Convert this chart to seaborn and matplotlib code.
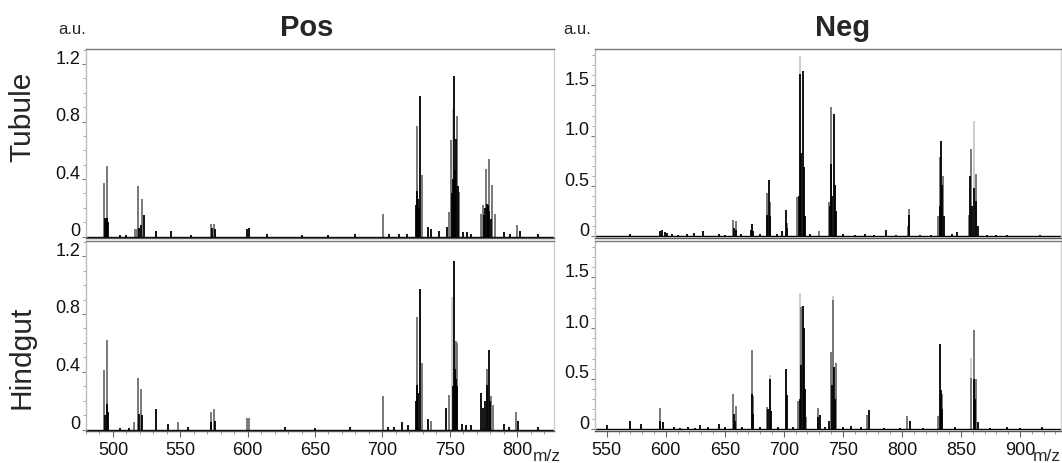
import pandas as pd
import matplotlib
matplotlib.use("Agg")
import matplotlib.pyplot as plt
import matplotlib.transforms as mtransforms
from matplotlib.ticker import FixedLocator, MultipleLocator
import seaborn as sns

# peak lists (m/z, intensity a.u.); three overlaid replicates
pos_tubule_light = [(752.2, 0.89)]
pos_tubule_gray = [(493.3, 0.37), (495.5, 0.49), (516.5, 0.05), (517.5, 0.05), (518.6, 0.35),
                   (521.5, 0.26), (572.8, 0.09), (575.2, 0.09), (700.4, 0.16), (725.9, 0.77),
                   (729.4, 0.43), (749.4, 0.17), (751.2, 0.67), (755.1, 0.84), (756.6, 0.31),
                   (773.0, 0.16), (774.5, 0.22), (777.0, 0.47), (779.0, 0.54), (781.2, 0.36),
                   (783.6, 0.16), (799.7, 0.08)]
pos_tubule_black = [(494.0, 0.13), (494.6, 0.12), (495.5, 0.13), (496.2, 0.10), (519.0, 0.06),
                    (521.0, 0.08), (523.0, 0.15), (531.9, 0.04), (543.0, 0.04), (573.5, 0.06),
                    (575.7, 0.05), (599.5, 0.05), (601.0, 0.06), (614.3, 0.02), (725.3, 0.22),
                    (725.9, 0.32), (726.5, 0.26), (727.2, 0.20), (728.1, 0.98), (733.9, 0.07),
                    (736.0, 0.05), (742.0, 0.04), (747.7, 0.07), (751.8, 0.30), (752.6, 0.40),
                    (753.4, 1.12), (754.1, 0.46), (755.0, 0.68), (755.8, 0.35), (775.5, 0.15),
                    (776.5, 0.20), (777.5, 0.23), (778.3, 0.22), (779.3, 0.18), (780.3, 0.12),
                    (790.3, 0.03), (802.2, 0.04), (815.5, 0.015), (505.0, 0.01), (510.0, 0.01),
                    (558.0, 0.01), (640.0, 0.01), (660.0, 0.01), (680.0, 0.015), (705.0, 0.02),
                    (712.0, 0.02), (718.0, 0.02), (760.0, 0.03), (763.0, 0.03), (766.0, 0.02),
                    (795.0, 0.02)]

pos_hindgut_light = [(751.7, 0.92)]
pos_hindgut_gray = [(493.3, 0.41), (495.5, 0.62), (516.0, 0.05), (518.8, 0.36), (521.0, 0.28),
                    (548.0, 0.05), (572.5, 0.12), (575.2, 0.14), (599.3, 0.08), (601.2, 0.08),
                    (700.2, 0.23), (725.9, 0.78), (729.4, 0.46), (735.8, 0.06), (749.6, 0.24),
                    (754.4, 0.61), (755.6, 0.60), (777.5, 0.42), (780.6, 0.23), (781.8, 0.17),
                    (799.2, 0.12)]
pos_hindgut_black = [(494.2, 0.10), (495.5, 0.18), (496.2, 0.12), (519.5, 0.11), (521.5, 0.10),
                     (531.9, 0.14), (540.8, 0.04), (573.0, 0.05), (575.5, 0.06), (627.7, 0.015),
                     (714.2, 0.05), (725.3, 0.20), (725.9, 0.31), (726.6, 0.25), (728.1, 0.97),
                     (734.1, 0.07), (747.6, 0.15), (752.3, 0.30), (753.4, 1.17), (754.0, 0.42),
                     (754.8, 0.35), (755.5, 0.30), (772.9, 0.25), (774.9, 0.15), (776.5, 0.20),
                     (777.8, 0.31), (779.0, 0.55), (780.0, 0.20), (790.3, 0.04), (801.0, 0.06),
                     (815.8, 0.02), (505.0, 0.01), (512.0, 0.01), (556.0, 0.015), (650.0, 0.01),
                     (676.0, 0.02), (704.0, 0.02), (709.0, 0.02), (719.0, 0.03), (759.0, 0.04),
                     (762.0, 0.03), (766.0, 0.03), (794.0, 0.02)]

neg_tubule_light = [(713.7, 1.79), (861.0, 1.15)]
neg_tubule_gray = [(657.2, 0.16), (659.5, 0.15), (685.5, 0.43), (688.3, 0.34), (702.4, 0.13),
                   (711.4, 0.39), (729.5, 0.05), (738.0, 0.34), (739.9, 1.28), (805.4, 0.10),
                   (806.2, 0.27), (830.8, 0.20), (832.5, 0.79), (835.0, 0.60), (857.0, 0.21),
                   (858.2, 0.87), (862.7, 0.62)]
neg_tubule_black = [(569.7, 0.02), (595.5, 0.05), (597.0, 0.06), (599.0, 0.04), (601.0, 0.03),
                    (618.0, 0.02), (624.0, 0.03), (631.3, 0.05), (658.0, 0.08), (659.5, 0.06),
                    (672.0, 0.06), (672.8, 0.12), (673.6, 0.05), (685.5, 0.21), (687.4, 0.56),
                    (688.3, 0.20), (698.2, 0.05), (701.6, 0.26), (702.6, 0.08), (713.2, 0.40),
                    (713.9, 1.61), (714.6, 0.83), (716.5, 1.64), (717.2, 0.69), (718.0, 0.20),
                    (739.2, 0.30), (740.0, 0.72), (741.0, 0.40), (742.5, 1.22), (743.2, 0.51),
                    (744.0, 0.25), (768.7, 0.02), (786.2, 0.06), (806.2, 0.21), (832.0, 0.30),
                    (833.3, 0.95), (834.0, 0.51), (835.5, 0.20), (846.9, 0.04), (858.0, 0.60),
                    (859.5, 0.30), (861.0, 0.48), (862.5, 0.35), (864.7, 0.10), (888.7, 0.01),
                    (916.9, 0.01), (605.0, 0.02), (610.0, 0.015), (645.0, 0.02), (650.0, 0.015),
                    (664.0, 0.02), (680.0, 0.02), (694.0, 0.02), (722.0, 0.02), (750.0, 0.02),
                    (760.0, 0.015), (776.0, 0.015), (795.0, 0.015), (815.0, 0.015), (825.0, 0.015),
                    (842.0, 0.02), (872.0, 0.015), (880.0, 0.01)]

neg_hindgut_light = [(688.3, 0.54), (713.7, 1.35), (741.3, 1.32), (858.7, 0.71)]
neg_hindgut_gray = [(595.1, 0.21), (657.2, 0.35), (659.2, 0.23), (673.3, 0.78), (674.1, 0.33),
                    (686.0, 0.22), (712.0, 0.28), (714.3, 1.21), (718.5, 0.12), (729.2, 0.21),
                    (739.6, 0.76), (741.8, 1.28), (744.1, 0.66), (770.2, 0.14), (804.5, 0.13),
                    (830.8, 0.13), (834.2, 0.35), (858.7, 0.51), (861.0, 0.98), (862.4, 0.50)]
neg_hindgut_black = [(550.5, 0.04), (569.7, 0.08), (578.8, 0.05), (595.5, 0.08), (597.4, 0.07),
                     (607.2, 0.02), (619.1, 0.02), (629.0, 0.04), (645.1, 0.05), (657.8, 0.15),
                     (659.0, 0.08), (673.3, 0.35), (674.0, 0.15), (686.5, 0.20), (688.3, 0.50),
                     (689.0, 0.18), (701.6, 0.60), (702.3, 0.34), (713.5, 0.30), (714.3, 0.64),
                     (716.5, 1.22), (717.0, 1.00), (717.8, 0.40), (729.2, 0.12), (730.6, 0.14),
                     (738.3, 0.08), (741.0, 0.44), (742.5, 0.62), (743.3, 0.30), (756.6, 0.03),
                     (772.4, 0.19), (806.8, 0.08), (832.2, 0.84), (833.0, 0.39), (834.0, 0.20),
                     (861.0, 0.50), (862.0, 0.30), (864.1, 0.07), (888.7, 0.02), (918.3, 0.02),
                     (612.0, 0.015), (625.0, 0.015), (636.0, 0.02), (650.0, 0.02), (665.0, 0.02),
                     (680.0, 0.02), (695.0, 0.02), (708.0, 0.02), (735.0, 0.02), (750.0, 0.02),
                     (765.0, 0.02), (785.0, 0.015), (798.0, 0.015), (818.0, 0.015), (845.0, 0.02),
                     (875.0, 0.015), (900.0, 0.01)]

pos_yticks = [0, 0.4, 0.8, 1.2]
pos_ylabels = ["0", "0.4", "0.8", "1.2"]
neg_yticks = [0, 0.5, 1.0, 1.5]
neg_ylabels = ["0", "0.5", "1.0", "1.5"]
pos_xticks = [500, 550, 600, 650, 700, 750, 800]
neg_xticks = [550, 600, 650, 700, 750, 800, 850, 900]

sns.set_theme(style="ticks")
plt.rcParams['font.family'] = ['Liberation Sans', 'DejaVu Sans']

W, H = 1062, 464
fig = plt.figure(figsize=(W / 100, H / 100), dpi=100)


def box(x0, y0, x1, y1):
    return [x0 / W, 1 - y1 / H, (x1 - x0) / W, (y1 - y0) / H]


def draw_spectrum(ax, light, gray, black):
    for peaks, col in [(light, '#c9c9c9'), (gray, '#6e6e6e'), (black, '#000000')]:
        df = pd.DataFrame(peaks, columns=['mz', 'intensity'])
        ax.vlines(df['mz'], 0, df['intensity'], color=col, lw=1.3)
    ax.axhline(0, color='black', lw=1.0)


def style_axes(ax, xlim, ylim, yticks, ylabels, xticks, bottom):
    ax.set_xlim(*xlim)
    ax.set_ylim(*ylim)
    ax.set_facecolor('white')
    ax.spines['top'].set_color('#7a7a7a')
    ax.spines['left'].set_color('#bdbdbd')
    ax.spines['right'].set_color('#cfcfcf')
    ax.spines['bottom'].set_color('#555555')
    for s in ax.spines.values():
        s.set_linewidth(1.0)
    ax.yaxis.set_major_locator(FixedLocator(yticks))
    ax.set_yticklabels(ylabels)
    ax.yaxis.set_minor_locator(MultipleLocator(0.1))
    ax.tick_params(axis='y', which='major', length=3, width=0.8, color='#777777',
                   pad=1, labelsize=13, labelcolor='#111111')
    ax.tick_params(axis='y', which='minor', length=2, width=0.6, color='#999999')
    ax.xaxis.set_major_locator(FixedLocator(xticks))
    ax.xaxis.set_minor_locator(MultipleLocator(10))
    if bottom:
        ax.tick_params(axis='x', which='major', length=4, width=0.8, color='#666666',
                       pad=3, labelsize=13, labelcolor='#111111')
        ax.tick_params(axis='x', which='minor', length=2.5, width=0.6, color='#888888')
    else:
        ax.tick_params(axis='x', which='both', bottom=False, labelbottom=False)
    shift = mtransforms.ScaledTranslation(0, 0.06, fig.dpi_scale_trans)
    for lbl in ax.yaxis.get_majorticklabels():
        lbl.set_va('center')
        lbl.set_transform(lbl.get_transform() + shift)


pos_xlim = (480.0, 827.4)
neg_xlim = (540.1, 934.7)
pos_ylim = (-0.01, 1.305)
neg_ylim = (-0.015, 1.86)

panels = [
    (box(86, 50, 554, 239), pos_xlim, pos_ylim, pos_yticks, pos_ylabels, pos_xticks, False,
     pos_tubule_light, pos_tubule_gray, pos_tubule_black),
    (box(86, 242, 554, 432), pos_xlim, pos_ylim, pos_yticks, pos_ylabels, pos_xticks, True,
     pos_hindgut_light, pos_hindgut_gray, pos_hindgut_black),
    (box(595, 50, 1061, 239), neg_xlim, neg_ylim, neg_yticks, neg_ylabels, neg_xticks, False,
     neg_tubule_light, neg_tubule_gray, neg_tubule_black),
    (box(595, 242, 1061, 432), neg_xlim, neg_ylim, neg_yticks, neg_ylabels, neg_xticks, True,
     neg_hindgut_light, neg_hindgut_gray, neg_hindgut_black),
]

for rect, xlim, ylim, yt, yl, xt, bottom, light, gray, black in panels:
    ax = fig.add_axes(rect)
    draw_spectrum(ax, light, gray, black)
    style_axes(ax, xlim, ylim, yt, yl, xt, bottom)

# titles, row labels and units
fig.text(307 / W, 1 - 28 / H, "Pos", ha='center', va='center', fontsize=21, fontweight='bold')
fig.text(843 / W, 1 - 28 / H, "Neg", ha='center', va='center', fontsize=21, fontweight='bold')
fig.text(22 / W, 1 - 117 / H, "Tubule", rotation=90, ha='center', va='center', fontsize=21.5)
fig.text(22 / W, 1 - 357 / H, "Hindgut", rotation=90, ha='center', va='center', fontsize=21.5)
fig.text(72 / W, 1 - 30 / H, "a.u.", ha='center', va='center', fontsize=12)
fig.text(577 / W, 1 - 30 / H, "a.u.", ha='center', va='center', fontsize=12)
fig.text(547 / W, 1 - 457 / H, "m/z", ha='center', va='center', fontsize=12.5)
fig.text(1047 / W, 1 - 457 / H, "m/z", ha='center', va='center', fontsize=12.5)

fig.savefig("out.png", dpi=100, facecolor='white')
